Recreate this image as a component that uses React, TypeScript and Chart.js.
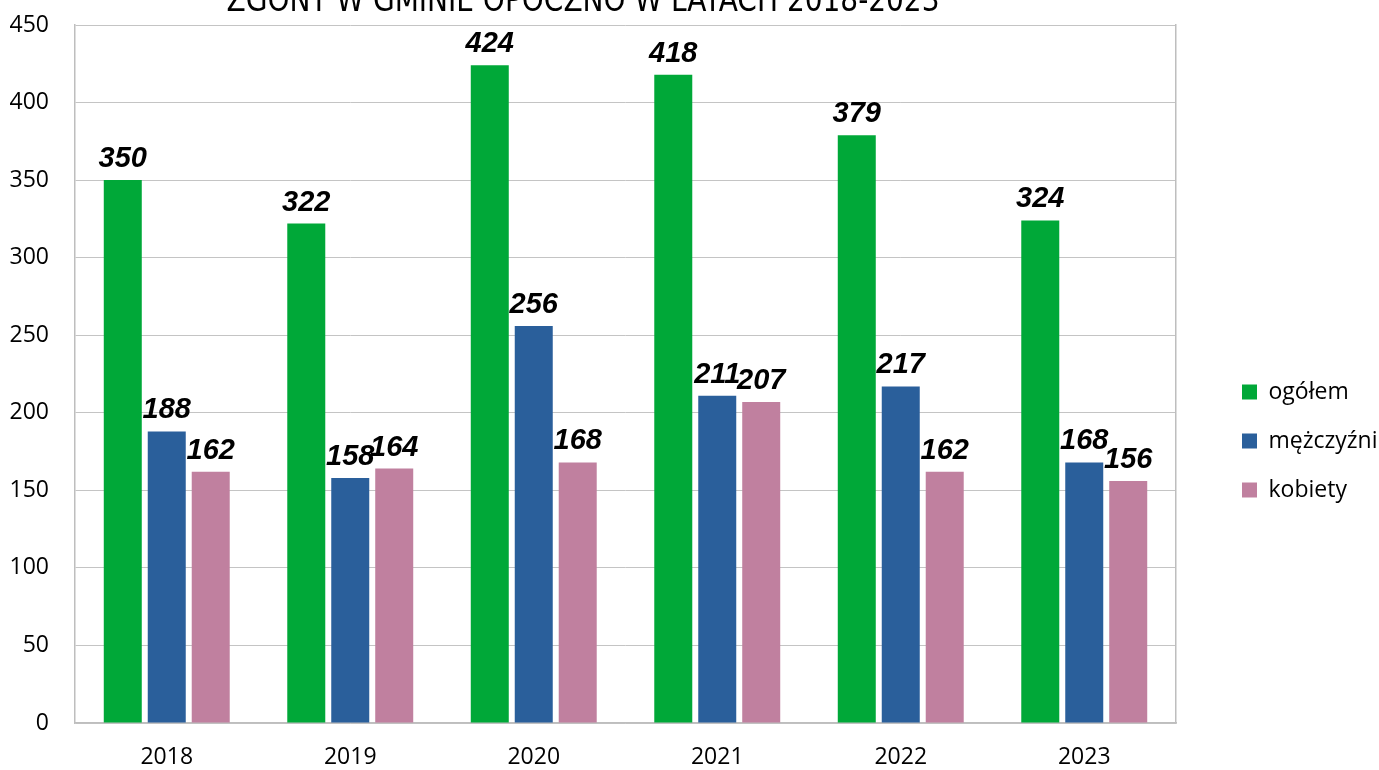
import React, { useEffect, useRef } from 'react';
import { Chart, registerables } from 'chart.js';

Chart.register(...registerables);

const years = ['2018', '2019', '2020', '2021', '2022', '2023'];
const ogolem = [350, 322, 424, 418, 379, 324];
const mezczyzni = [188, 158, 256, 211, 217, 168];
const kobiety = [162, 164, 168, 207, 162, 156];
const seriesNames = ['ogółem', 'mężczyźni', 'kobiety'];
const seriesColors = ['#00A838', '#2A5F9B', '#C0809F'];
const yMin = 0;
const yMax = 450;
const yStep = 50;
const titleText = 'ZGONY W GMINIE OPOCZNO W LATACH 2018-2023';

const FONT = "'Open Sans', 'Lato', sans-serif";

const titlePlugin = {
  id: 'cutTitle',
  afterDraw(chart: any) {
    const ctx = chart.ctx;
    ctx.save();
    ctx.font = "34px 'Liberation Sans Narrow', 'DejaVu Sans Condensed', sans-serif";
    ctx.fillStyle = '#000';
    ctx.textAlign = 'center';
    ctx.textBaseline = 'alphabetic';
    ctx.fillText(titleText, 583, 11, 713);
    ctx.restore();
  },
};

const valueLabels = {
  id: 'valueLabels',
  afterDatasetsDraw(chart: any) {
    const ctx = chart.ctx;
    ctx.save();
    ctx.font = "italic bold 29px 'Liberation Sans', Arial, sans-serif";
    ctx.fillStyle = '#000';
    ctx.textAlign = 'center';
    ctx.textBaseline = 'alphabetic';
    chart.data.datasets.forEach((ds: any, di: number) => {
      const meta = chart.getDatasetMeta(di);
      meta.data.forEach((el: any, i: number) => {
        ctx.fillText(String(ds.data[i]), el.x, el.y - 13);
      });
    });
    ctx.restore();
  },
};

export default function App() {
  const ref = useRef<HTMLCanvasElement | null>(null);

  useEffect(() => {
    if (!ref.current) return;
    const chart = new Chart(ref.current, {
      type: 'bar',
      data: {
        labels: years,
        datasets: [ogolem, mezczyzni, kobiety].map((d, i) => ({
          label: seriesNames[i],
          data: d,
          backgroundColor: seriesColors[i],
          borderWidth: 0,
          categoryPercentage: 0.719,
          barPercentage: 0.864,
          yAxisID: 'y',
        })),
      },
      options: {
        responsive: false,
        animation: false,
        layout: { padding: { top: 25, left: 0, right: 0, bottom: 0 } },
        plugins: {
          title: { display: false },
          tooltip: { enabled: false },
          legend: {
            position: 'right',
            align: 'center',
            maxWidth: 163,
            title: {
              display: true,
              text: '',
              font: { size: 10, lineHeight: 1 },
              padding: { top: 77, bottom: 0 },
            },
            labels: {
              boxWidth: 15,
              boxHeight: 15,
              padding: 26,
              color: '#000',
              font: { family: FONT, size: 23 },
            },
          },
        },
        scales: {
          x: {
            grid: { display: true, color: 'transparent', drawTicks: true, tickLength: 21, tickColor: 'transparent' },
            border: { display: true, color: '#BEBEBE', width: 1.5 },
            ticks: { color: '#000', padding: 0, font: { family: FONT, size: 23 } },
            afterFit: (s: any) => { s.height = 47; },
          },
          y: {
            min: yMin,
            max: yMax,
            ticks: { stepSize: yStep, color: '#000', padding: 0, font: { family: FONT, size: 23 } },
            grid: { color: '#C4C4C4', lineWidth: 1, drawTicks: true, tickLength: 26, tickColor: 'transparent' },
            border: { display: true, color: '#BEBEBE', width: 1.5 },
            afterFit: (s: any) => { s.width = 75; },
          },
          y2: {
            position: 'right',
            min: yMin,
            max: yMax,
            ticks: { display: false },
            grid: { display: false, drawTicks: false },
            border: { display: true, color: '#BEBEBE', width: 1.5 },
            afterFit: (s: any) => { s.width = 40; },
          },
        },
      },
      plugins: [valueLabels, titlePlugin],
    });
    return () => chart.destroy();
  }, []);

  return (
    <div style={{ position: 'absolute', left: 0, top: 0, width: 1379, height: 770, background: '#fff' }}>
      <canvas ref={ref} width={1379} height={770} />
    </div>
  );
}
